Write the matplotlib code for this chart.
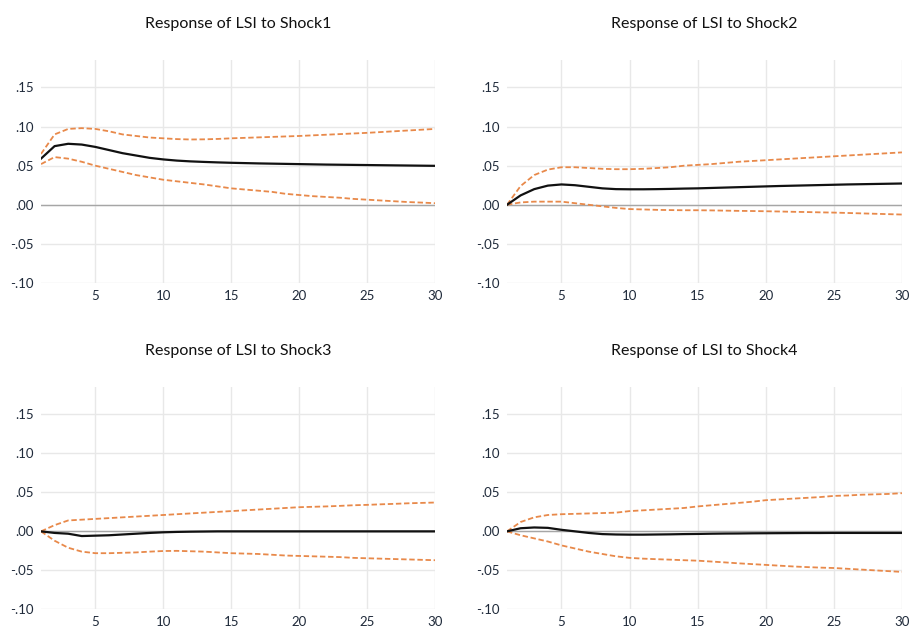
import matplotlib
matplotlib.use("Agg")
import matplotlib.pyplot as plt
import numpy as np

plt.rcParams['font.family'] = ['Lato', 'DejaVu Sans']

periods = np.arange(1, 31)

# Shock1
s1_mid = [0.059, 0.075, 0.078, 0.077, 0.074, 0.070, 0.066, 0.063, 0.060, 0.058,
          0.0565, 0.0555, 0.0548, 0.0542, 0.0537, 0.0533, 0.0529, 0.0526, 0.0523, 0.0520,
          0.0517, 0.0514, 0.0512, 0.0510, 0.0508, 0.0506, 0.0504, 0.0502, 0.0500, 0.0498]
s1_hi = [0.065, 0.090, 0.097, 0.098, 0.097, 0.094, 0.090, 0.088, 0.086, 0.085,
         0.084, 0.0835, 0.0837, 0.0842, 0.0850, 0.0856, 0.0862, 0.0868, 0.0874, 0.0880,
         0.0888, 0.0896, 0.0904, 0.0912, 0.0920, 0.0930, 0.0940, 0.0950, 0.0960, 0.0970]
s1_lo = [0.052, 0.061, 0.059, 0.055, 0.050, 0.046, 0.042, 0.038, 0.035, 0.032,
         0.030, 0.028, 0.026, 0.0235, 0.021, 0.0195, 0.018, 0.0165, 0.014, 0.0125,
         0.011, 0.010, 0.009, 0.0075, 0.0065, 0.0055, 0.0045, 0.0035, 0.0028, 0.002]

# Shock2
s2_mid = [0.000, 0.012, 0.020, 0.0245, 0.026, 0.025, 0.023, 0.021, 0.020, 0.0198,
          0.0198, 0.020, 0.0203, 0.0207, 0.021, 0.0215, 0.022, 0.0225, 0.023, 0.0235,
          0.024, 0.0244, 0.0248, 0.0252, 0.0256, 0.026, 0.0263, 0.0266, 0.0269, 0.0272]
s2_hi = [0.000, 0.024, 0.038, 0.045, 0.048, 0.048, 0.047, 0.046, 0.0455, 0.0455,
         0.046, 0.047, 0.048, 0.050, 0.051, 0.052, 0.0535, 0.055, 0.056, 0.057,
         0.058, 0.059, 0.060, 0.061, 0.062, 0.063, 0.064, 0.065, 0.066, 0.067]
s2_lo = [0.000, 0.003, 0.004, 0.004, 0.004, 0.002, 0.000, -0.002, -0.004, -0.0055,
         -0.006, -0.0065, -0.0068, -0.007, -0.007, -0.0072, -0.0075, -0.0078, -0.008, -0.0083,
         -0.0086, -0.009, -0.0093, -0.0097, -0.010, -0.0105, -0.011, -0.0115, -0.012, -0.0125]

# Shock3
s3_mid = [0.000, -0.002, -0.003, -0.006, -0.0055, -0.005, -0.004, -0.003, -0.002, -0.0012,
          -0.0007, -0.0004, -0.0002, 0.0, 0.0, 0.0, 0.0, 0.0, 0.0, 0.0,
          0.0, 0.0, 0.0, 0.0, 0.0, 0.0, 0.0, 0.0, 0.0, 0.0]
s3_hi = [0.000, 0.008, 0.014, 0.015, 0.016, 0.017, 0.018, 0.019, 0.020, 0.021,
         0.022, 0.023, 0.024, 0.025, 0.026, 0.027, 0.028, 0.029, 0.030, 0.031,
         0.0315, 0.032, 0.0327, 0.0335, 0.034, 0.0347, 0.0353, 0.036, 0.0365, 0.037]
s3_lo = [0.000, -0.012, -0.021, -0.026, -0.028, -0.028, -0.0275, -0.027, -0.026, -0.0252,
         -0.025, -0.0255, -0.026, -0.027, -0.028, -0.0285, -0.029, -0.030, -0.031, -0.0315,
         -0.032, -0.0325, -0.033, -0.034, -0.0345, -0.035, -0.0355, -0.036, -0.0365, -0.037]

# Shock4
s4_mid = [0.000, 0.004, 0.005, 0.0045, 0.002, 0.000, -0.002, -0.0035, -0.004, -0.0042,
          -0.0042, -0.004, -0.0038, -0.0035, -0.0033, -0.003, -0.0028, -0.0027, -0.0025, -0.0024,
          -0.0023, -0.0022, -0.0021, -0.0021, -0.002, -0.002, -0.002, -0.002, -0.002, -0.002]
s4_hi = [0.000, 0.012, 0.018, 0.021, 0.022, 0.0225, 0.023, 0.0235, 0.024, 0.026,
         0.027, 0.028, 0.029, 0.030, 0.032, 0.0335, 0.035, 0.0365, 0.038, 0.040,
         0.041, 0.042, 0.043, 0.044, 0.0455, 0.046, 0.047, 0.0475, 0.048, 0.049]
s4_lo = [0.000, -0.005, -0.009, -0.013, -0.018, -0.022, -0.026, -0.029, -0.032, -0.034,
         -0.035, -0.0357, -0.0363, -0.037, -0.0376, -0.0387, -0.0398, -0.041, -0.042, -0.043,
         -0.044, -0.045, -0.0458, -0.0465, -0.047, -0.048, -0.049, -0.050, -0.051, -0.052]

titles = ["Response of LSI to Shock1", "Response of LSI to Shock2",
          "Response of LSI to Shock3", "Response of LSI to Shock4"]
mids = [s1_mid, s2_mid, s3_mid, s4_mid]
his = [s1_hi, s2_hi, s3_hi, s4_hi]
los = [s1_lo, s2_lo, s3_lo, s4_lo]

yticks = [-0.10, -0.05, 0.00, 0.05, 0.10, 0.15]
ytick_labels = ["-.10", "-.05", ".00", ".05", ".10", ".15"]
xticks = [5, 10, 15, 20, 25, 30]

fig = plt.figure(figsize=(9.13, 6.33), dpi=100)

# axes boxes in figure fraction: left, bottom, width, height
boxes = [
    [0.0449, 0.553, 0.4316, 0.352],
    [0.5553, 0.553, 0.4326, 0.352],
    [0.0449, 0.0374, 0.4316, 0.351],
    [0.5553, 0.0374, 0.4326, 0.351],
]

orange = "#E8894A"

for i in range(4):
    ax = fig.add_axes(boxes[i])
    ax.set_xlim(1, 30)
    ax.set_ylim(-0.10, 0.185)
    ax.set_yticks(yticks)
    ax.set_yticklabels(ytick_labels)
    ax.set_xticks(xticks)
    ax.grid(True, color="#e8e8e8", linewidth=1.0)
    ax.set_axisbelow(True)
    for sp in ax.spines.values():
        sp.set_visible(False)
    ax.tick_params(length=0, labelsize=9.5, colors="#1f2a3a", pad=5)
    ax.axhline(0, color="#a6a6a6", linewidth=1.0, zorder=1)

    ax.plot(periods, his[i], color=orange, linestyle=(0, (3, 1.5)), linewidth=1.3, zorder=2)
    ax.plot(periods, los[i], color=orange, linestyle=(0, (3, 1.5)), linewidth=1.3, zorder=2)
    ax.plot(periods, mids[i], color="#111111", linewidth=1.6, zorder=3)

    ax.set_title(titles[i], fontsize=11.5, color="#111111", pad=23)

plt.savefig("out.png", dpi=100)
